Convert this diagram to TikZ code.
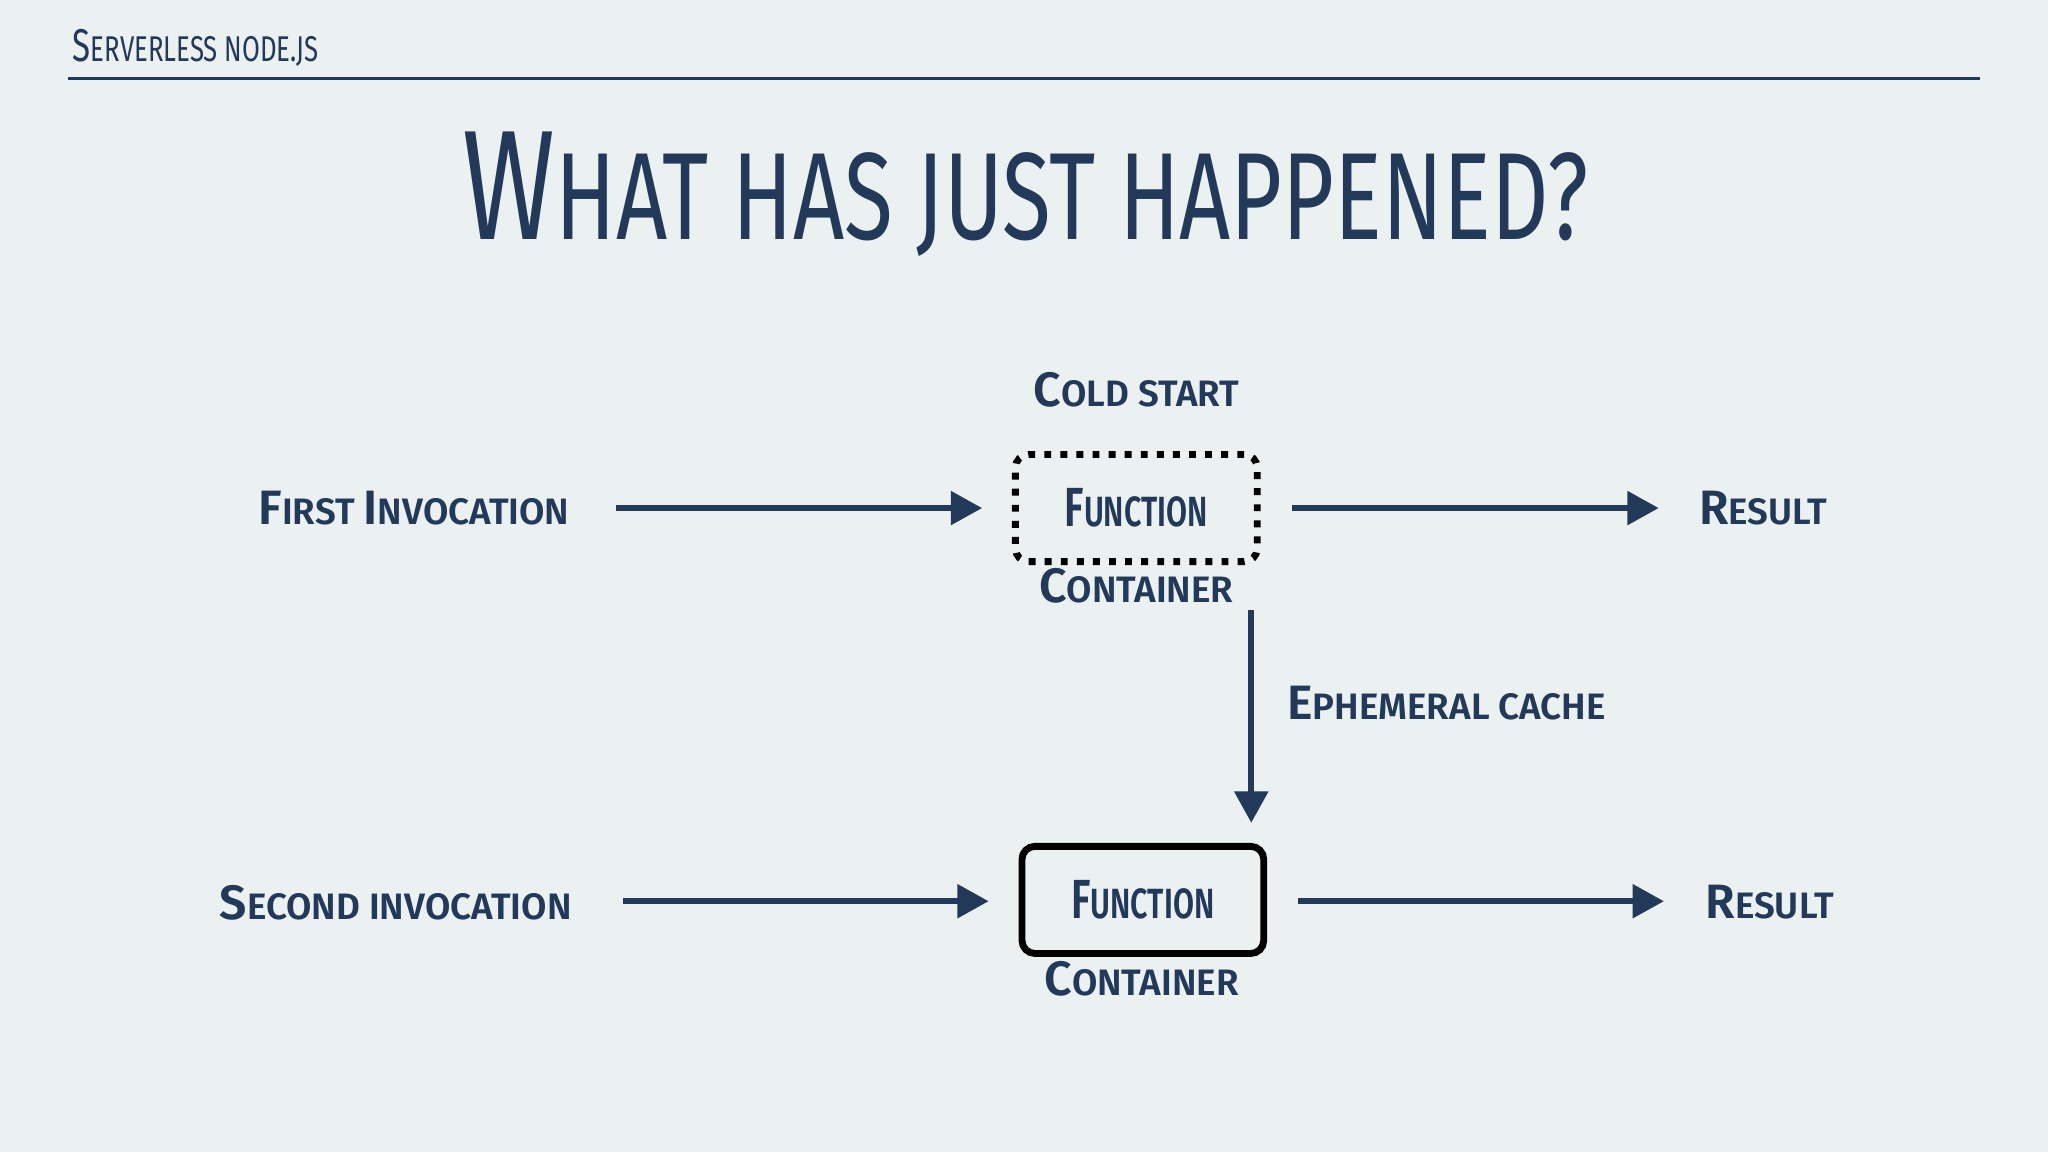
\documentclass[tikz,border=0pt]{standalone}
\usepackage{fontspec}
\setmainfont{Fira Sans}
\newfontfamily\condfont[FakeStretch=0.72]{Fira Sans}
\newfontfamily\condbold[FakeStretch=0.72]{Fira Sans SemiBold}
\newfontfamily\labfont{Fira Sans SemiBold}
\usetikzlibrary{arrows.meta}
\definecolor{bg}{HTML}{EBF0F1}
\definecolor{navy}{HTML}{22395A}
\newcommand{\sck}[2]{{\fontsize{10.5}{12}\selectfont #1}{\fontsize{8}{10}\selectfont #2}}
\newcommand{\scb}[2]{{\fontsize{12}{14}\selectfont #1}{\fontsize{9.2}{11}\selectfont #2}}
\tikzset{
 lab/.style={text=navy,font=\labfont,inner sep=0pt},
 arr/.style={draw=navy,line width=1.4pt,-{Triangle[length=0.24cm,width=0.25cm]}},
 fbox/.style={draw=black,line width=1.5pt,rounded corners=0.1cm,minimum width=1.85cm,minimum height=0.82cm,text=navy,font=\condbold}
}
\begin{document}
\begin{tikzpicture}[x=0.01cm,y=-0.01cm]
\fill[bg] (0,0) rectangle (1568,882);
\useasboundingbox (0,0) rectangle (1568,882);
\node[anchor=base west,text=navy,font=\condfont,inner sep=0pt] (hdr) at (55,47) {{\fontsize{10}{12}\selectfont S}{\fontsize{7.8}{10}\selectfont ERVERLESS NODE.JS}};
\draw[navy,line width=0.6pt] (52,60) coordinate (l1) -- (1516,60) coordinate (l2);
\node[text=navy,font=\condfont,inner sep=0pt,anchor=base] (title) at (785,183) {{\fontsize{34}{40}\selectfont W}{\fontsize{27}{32}\selectfont HAT HAS JUST HAPPENED?}};
\node[lab,anchor=base] (cold) at (870,311) {\sck{C}{OLD START}};
% row 1
\node[lab] (first) at (317,389) {\sck{F}{IRST }\sck{I}{NVOCATION}};
\node[fbox,dotted,draw=black,line width=1.5pt] (f1) at (870,389) {\scb{F}{UNCTION}};
\node[lab,anchor=base] (c1) at (870,461) {\sck{C}{ONTAINER}};
\node[lab] (r1) at (1350,389) {\sck{R}{ESULT}};
\coordinate (a1s) at (472,389); \coordinate (a1e) at (752,389);
\coordinate (b1s) at (989,389); \coordinate (b1e) at (1270,389);
\draw[arr] (a1s) -- (a1e);
\draw[arr] (b1s) -- (b1e);
% vertical
\coordinate (vs) at (958,467); \coordinate (ve) at (958,630);
\draw[arr] (vs) -- (ve);
\node[lab,anchor=base west] (eph) at (985,551) {\sck{E}{PHEMERAL CACHE}};
% row 2
\node[lab] (second) at (303,691) {\sck{S}{ECOND INVOCATION}};
\node[fbox] (f2) at (875,689) {\scb{F}{UNCTION}};
\node[lab,anchor=base] (c2) at (874,762) {\sck{C}{ONTAINER}};
\node[lab] (r2) at (1355,691) {\sck{R}{ESULT}};
\coordinate (a2s) at (477,690); \coordinate (a2e) at (757,690);
\coordinate (b2s) at (994,690); \coordinate (b2e) at (1274,690);
\draw[arr] (a2s) -- (a2e);
\draw[arr] (b2s) -- (b2e);
\end{tikzpicture}
\end{document}
